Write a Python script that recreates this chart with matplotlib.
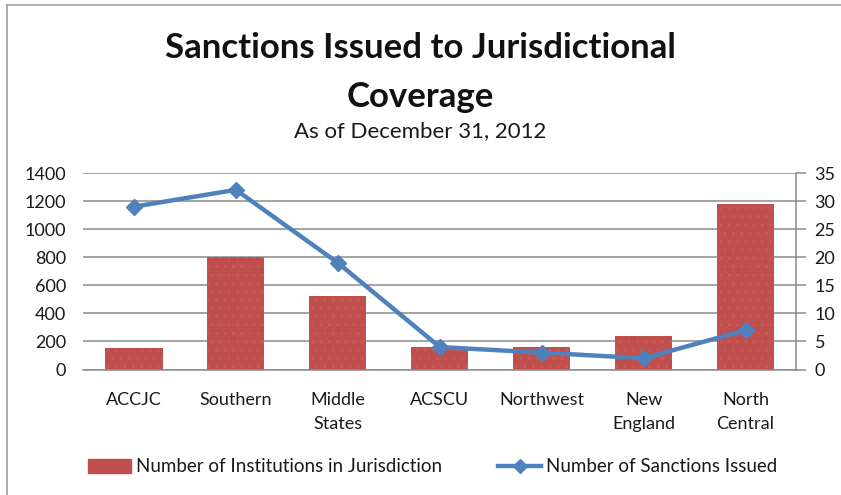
import matplotlib
matplotlib.use('Agg')
import matplotlib.pyplot as plt
from matplotlib.lines import Line2D
import numpy as np

# --- data ---
categories = ['ACCJC', 'Southern', 'Middle\nStates', 'ACSCU', 'Northwest', 'New\nEngland', 'North\nCentral']
institutions = [150, 805, 525, 160, 160, 240, 1180]
sanctions = [29, 32, 19, 4, 3, 2, 7]

left_ticks = [0, 200, 400, 600, 800, 1000, 1200, 1400]
right_ticks = [0, 5, 10, 15, 20, 25, 30, 35]

bar_color = '#C0504D'
line_color = '#4F81BD'
grid_color = '#8C8C8C'
text_color = '#1A1A1A'

plt.rcParams['font.family'] = ['Lato', 'DejaVu Sans']
plt.rcParams['hatch.linewidth'] = 0.6

fig = plt.figure(figsize=(8.41, 4.95), dpi=100)
ax1 = fig.add_axes([83 / 841, 1 - 369.5 / 495, (796.5 - 83) / 841, (369.5 - 173) / 495])

x = np.arange(len(categories))
ax1.bar(x, institutions, width=0.56, color=bar_color, edgecolor='#C85E5B',
        linewidth=0, hatch='..', zorder=2)
ax1.set_xlim(-0.5, len(categories) - 0.5)
ax1.set_ylim(0, 1400)
ax1.set_yticks(left_ticks)
ax1.set_xticks(x)
ax1.set_xticklabels(categories, fontsize=13, color=text_color, linespacing=1.6)
ax1.tick_params(axis='x', length=0, pad=16)
ax1.tick_params(axis='y', length=0, labelsize=13, labelcolor=text_color, pad=12)
ax1.grid(axis='y', color=grid_color, linewidth=1.1, zorder=0)
ax1.set_axisbelow(True)
for s in ['left', 'top', 'right']:
    ax1.spines[s].set_visible(False)
ax1.spines['bottom'].set_color(grid_color)
ax1.spines['bottom'].set_linewidth(1.1)

ax2 = ax1.twinx()
ax2.plot(x, sanctions, color=line_color, linewidth=3.2, marker='D', markersize=8,
         markerfacecolor=line_color, markeredgecolor=line_color, zorder=3)
ax2.set_ylim(0, 35)
ax2.set_yticks(right_ticks)
ax2.tick_params(axis='y', direction='out', length=7, width=1.1, color=grid_color,
                labelsize=13, labelcolor=text_color, pad=6)
for s in ['left', 'top', 'bottom']:
    ax2.spines[s].set_visible(False)
ax2.spines['right'].set_color(grid_color)
ax2.spines['right'].set_linewidth(1.1)

# titles
fig.text(0.5, 1 - 48 / 495, 'Sanctions Issued to Jurisdictional', ha='center', va='center',
         fontsize=25, fontweight='bold', color='#111111')
fig.text(0.5, 1 - 97 / 495, 'Coverage', ha='center', va='center',
         fontsize=25, fontweight='bold', color='#111111')
fig.text(0.5, 1 - 131 / 495, 'As of December 31, 2012', ha='center', va='center',
         fontsize=16, color=text_color)

# legend
handles = [
    plt.Rectangle((0, 0), 1, 1, color=bar_color),
    Line2D([0], [0], color=line_color, linewidth=3.2, marker='D', markersize=7),
]
labels = ['Number of Institutions in Jurisdiction', 'Number of Sanctions Issued']
fig.legend(handles, labels, loc='center', bbox_to_anchor=(0.5 + 12 / 841, 1 - 467 / 495), ncol=2,
           frameon=False, fontsize=13.5, handlelength=2.3, handletextpad=0.25,
           columnspacing=3.0, labelcolor=text_color)

# outer chart frame (left and top edges visible)
fig.add_artist(Line2D([7 / 841, 7 / 841], [0, 1 - 5 / 495], color='#A0A0A0', linewidth=1.2))
fig.add_artist(Line2D([7 / 841, 1], [1 - 5 / 495, 1 - 5 / 495], color='#A0A0A0', linewidth=1.2))

fig.savefig('out.png', dpi=100)
